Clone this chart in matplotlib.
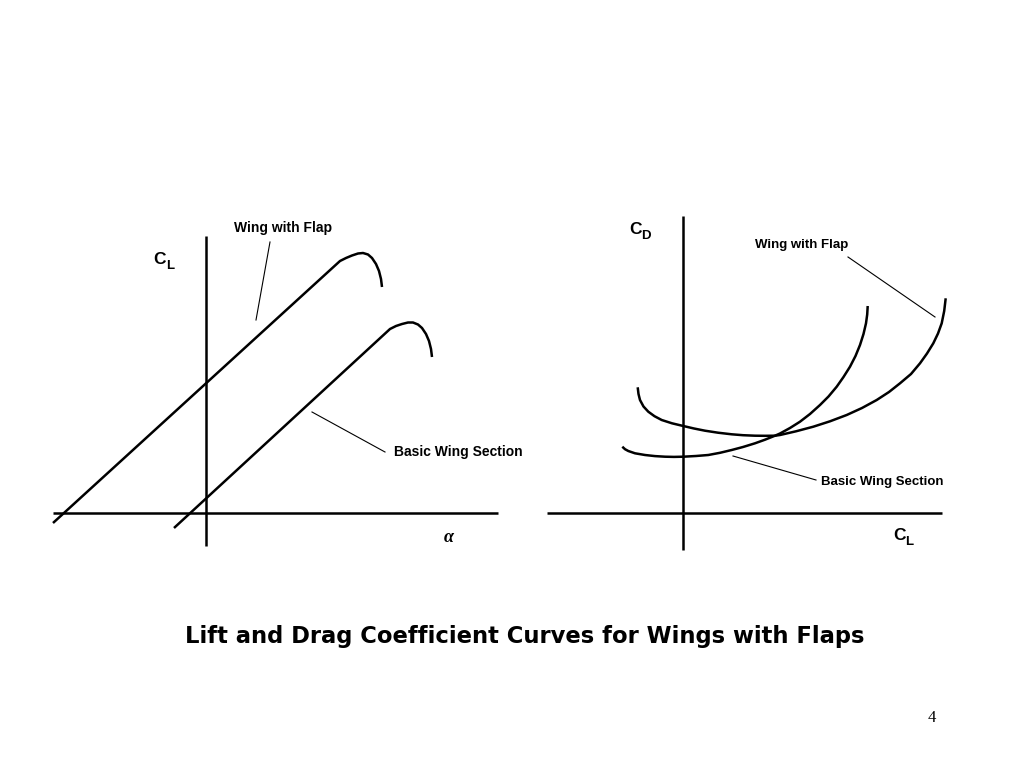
import matplotlib
matplotlib.use("Agg")
import matplotlib.pyplot as plt

# toutes les coordonnées en pixels de la diapositive (1024 x 768, y vers le bas)

# --- CL en fonction de alpha ---
cl_flap_x = [53, 340, 346, 352, 358, 363, 368, 372, 376, 379, 381, 382]
cl_flap_y = [523, 261, 258, 255.5, 253.5, 253, 254.5, 258, 264, 271, 279, 287]
cl_basic_x = [174, 390, 396, 402, 408, 413, 418, 422, 426, 429, 431, 432]
cl_basic_y = [528, 329, 326, 324, 322.5, 322.5, 324.5, 328, 334, 341, 349, 357]

# --- CD en fonction de CL ---
cd_flap_x = [637.7, 638.5, 640, 643.5, 648.3, 654.5, 661.7, 672, 683.3, 694, 705, 718, 731.7,
             743, 755, 765, 775, 780, 796, 813.3, 830, 846.7, 862, 876.7, 889, 900,
             911, 920, 927, 933.3, 938, 941.7, 944.2, 945.7]
cd_flap_y = [387.3, 394, 400, 406.5, 411.7, 416.2, 420, 423.3, 426, 428.5, 430.7, 432.7, 434.3,
             435.2, 435.7, 435.8, 435.7, 435, 431.3, 426.7, 421.3, 415, 408, 400, 392, 383.3,
             374, 363.3, 353.5, 343.3, 333.5, 323.3, 311, 298.3]
cd_basic_x = [622.3, 625, 628.3, 635, 645, 655, 665, 674, 683.3, 696, 708.3, 720, 731.7,
              743, 755, 765, 775, 780, 790, 800, 810, 820, 828.5, 836.7, 843.5, 850,
              855.5, 860, 863.5, 866, 867.2, 867.7]
cd_basic_y = [446.7, 449.2, 451, 453.3, 455, 456.1, 456.7, 456.9, 456.7, 456, 455, 452.8, 450,
              447, 443.3, 439.7, 435.7, 433.5, 428, 421.7, 414, 405, 396.5, 386.7, 377, 366.7,
              356, 345, 334, 323.3, 314.5, 306]

# lignes de rappel des légendes
leaders = [
    ([270, 256], [242, 320]),
    ([312, 385], [412, 452]),
    ([848, 935], [257, 317]),
    ([733, 816], [456, 480]),
]

fig = plt.figure(figsize=(10.24, 7.68), dpi=100)
ax = fig.add_axes([0, 0, 1, 1])
ax.set_xlim(0, 1024)
ax.set_ylim(768, 0)
ax.axis('off')

lw = 1.8
# axes du graphe de gauche
ax.plot([53, 498], [513, 513], color='black', lw=lw, solid_capstyle='butt')
ax.plot([206, 206], [236, 546], color='black', lw=lw, solid_capstyle='butt')
# axes du graphe de droite
ax.plot([547, 942], [513, 513], color='black', lw=lw, solid_capstyle='butt')
ax.plot([683, 683], [216, 550], color='black', lw=lw, solid_capstyle='butt')

for cx, cy in [(cl_flap_x, cl_flap_y), (cl_basic_x, cl_basic_y),
               (cd_flap_x, cd_flap_y), (cd_basic_x, cd_basic_y)]:
    ax.plot(cx, cy, color='black', lw=lw, solid_joinstyle='round', solid_capstyle='butt')

for lx, ly in leaders:
    ax.plot(lx, ly, color='black', lw=0.8)

lab = dict(fontweight='bold', family='Liberation Sans', va='center', ha='left')
ax.text(234, 228, 'Wing with Flap', fontsize=10, **lab)
ax.text(394, 452, 'Basic Wing Section', fontsize=10, **lab)
ax.text(755, 245, 'Wing with Flap', fontsize=9.5, **lab)
ax.text(821, 482, 'Basic Wing Section', fontsize=9.5, **lab)

# C avec indice
sym = dict(fontweight='bold', family='Liberation Sans', color='black')
ax.text(153, 259, 'C', fontsize=12.5, ha='left', va='center', **sym)
ax.text(166, 266, 'L', fontsize=9.5, ha='left', va='center', **sym)
ax.text(629, 229, 'C', fontsize=12.5, ha='left', va='center', **sym)
ax.text(641, 236, 'D', fontsize=9.5, ha='left', va='center', **sym)
ax.text(893, 535, 'C', fontsize=12.5, ha='left', va='center', **sym)
ax.text(905, 542, 'L', fontsize=9.5, ha='left', va='center', **sym)

ax.text(449, 538, 'α', fontsize=13, family='Liberation Serif', style='italic',
        fontweight='bold', ha='center', va='center')

ax.text(525, 636, 'Lift and Drag Coefficient Curves for Wings with Flaps',
        fontsize=16.3, fontweight='bold', family='DejaVu Sans', ha='center', va='center')
ax.text(932, 718, '4', fontsize=12, family='Liberation Serif', ha='center', va='center')

fig.savefig('out.png', dpi=100)
